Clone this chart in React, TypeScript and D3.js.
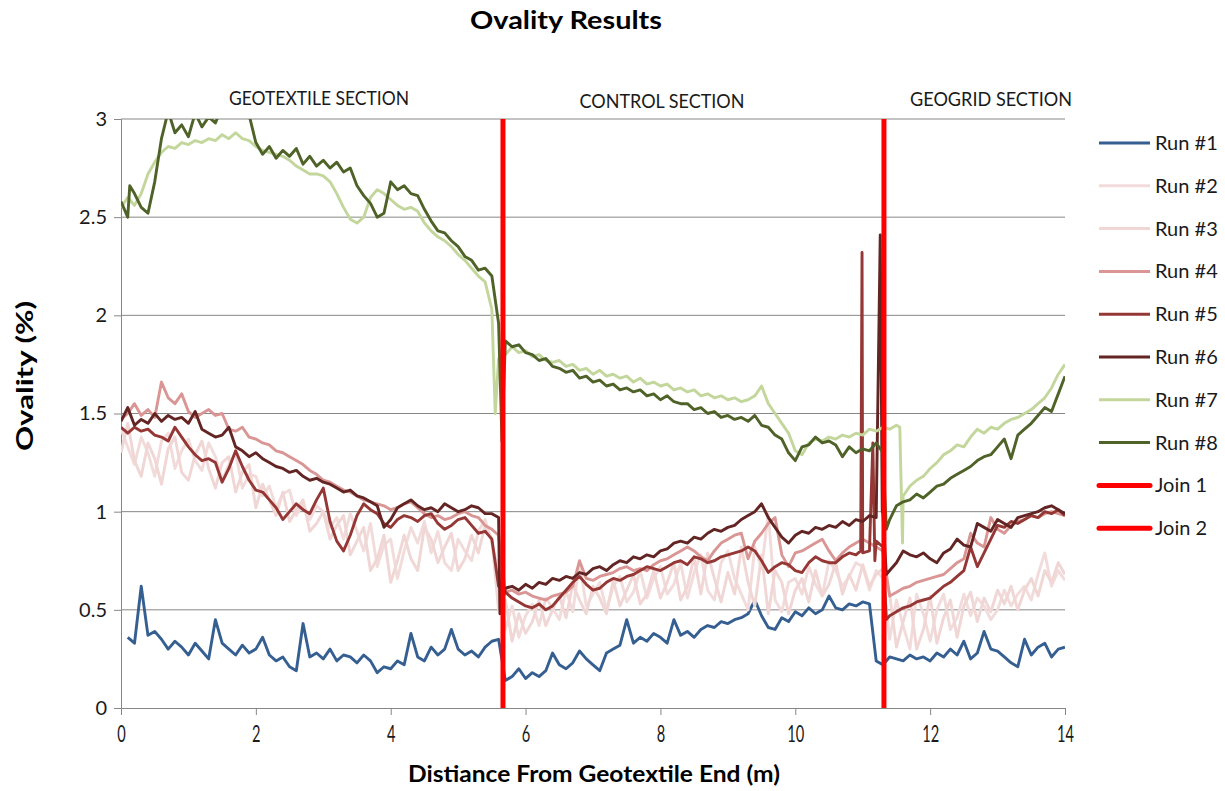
import React, { useEffect, useRef } from "react";
import * as d3 from "d3";

// ovality (%) sampled every 0.1 m along the pipe, 0 .. 14 m
const distanceStep = 0.1;

const run1 = [
  null, 0.36, 0.33, 0.62, 0.37, 0.39, 0.35, 0.30, 0.34, 0.31,
  0.27, 0.33, 0.29, 0.25, 0.45, 0.33, 0.30, 0.27, 0.32, 0.28,
  0.30, 0.36, 0.27, 0.24, 0.26, 0.21, 0.19, 0.43, 0.26, 0.28,
  0.25, 0.30, 0.24, 0.27, 0.26, 0.23, 0.27, 0.24, 0.18, 0.21,
  0.20, 0.24, 0.22, 0.38, 0.26, 0.24, 0.31, 0.27, 0.30, 0.40,
  0.30, 0.27, 0.29, 0.26, 0.31, 0.34, 0.35, 0.14, 0.16, 0.20,
  0.15, 0.18, 0.16, 0.19, 0.28, 0.22, 0.20, 0.23, 0.29, 0.25,
  0.22, 0.19, 0.28, 0.30, 0.32, 0.45, 0.33, 0.36, 0.34, 0.38,
  0.36, 0.33, 0.45, 0.37, 0.39, 0.36, 0.40, 0.42, 0.41, 0.44,
  0.43, 0.45, 0.46, 0.48, 0.55, 0.47, 0.41, 0.40, 0.46, 0.44,
  0.49, 0.47, 0.51, 0.48, 0.50, 0.57, 0.51, 0.50, 0.53, 0.52,
  0.54, 0.53, 0.24, 0.22, 0.26, 0.25, 0.24, 0.27, 0.25, 0.26,
  0.24, 0.28, 0.26, 0.30, 0.27, 0.34, 0.25, 0.28, 0.39, 0.30,
  0.29, 0.26, 0.23, 0.21, 0.35, 0.27, 0.31, 0.33, 0.26, 0.30,
  0.31,
];

const run2 = [
  1.42, 1.33, 1.24, 1.38, 1.30, 1.18, 1.36, 1.40, 1.22, 1.31,
  1.37, 1.26, 1.21, 1.35, 1.28, 1.16, 1.24, 1.30, 1.12, 1.19,
  1.18, 1.08, 1.13, 1.02, 1.09, 1.11, 0.98, 1.04, 0.96, 1.03,
  1.00, 0.92, 0.97, 0.86, 0.99, 0.90, 0.80, 0.94, 0.72, 0.83,
  0.86, 0.66, 0.80, 0.92, 0.84, 0.95, 0.79, 0.90, 0.74, 0.70,
  0.86, 0.80, 0.75, 0.90, 0.96, 0.84, 0.70, 0.40, 0.52, 0.36,
  0.47, 0.53, 0.42, 0.56, 0.51, 0.45, 0.60, 0.49, 0.74, 0.52,
  0.58, 0.64, 0.50, 0.62, 0.67, 0.54, 0.59, 0.70, 0.56, 0.66,
  0.72, 0.58, 0.63, 0.74, 0.56, 0.69, 0.78, 0.60, 0.55, 0.74,
  0.80, 0.66, 0.58, 0.50, 0.82, 0.71, 0.99, 0.55, 0.49, 0.64,
  0.66, 0.58, 0.72, 0.63, 0.57, 0.75, 0.70, 0.62, 0.67, 0.74,
  0.72, 0.60, 0.70, 0.66, 0.35, 0.55, 0.42, 0.30, 0.58, 0.48,
  0.34, 0.50, 0.58, 0.40, 0.46, 0.58, 0.47, 0.56, 0.52, 0.45,
  0.50, 0.60, 0.52, 0.58, 0.62, 0.55, 0.68, 0.79, 0.62, 0.70,
  0.65,
];

const run3 = [
  1.30, 1.45, 1.26, 1.18, 1.35, 1.27, 1.14, 1.32, 1.38, 1.20,
  1.16, 1.29, 1.36, 1.22, 1.12, 1.25, 1.28, 1.10, 1.20, 1.24,
  1.02, 1.14, 1.06, 0.98, 1.10, 0.95, 1.01, 1.06, 0.90, 0.94,
  1.00, 0.86, 0.93, 0.98, 0.78, 0.85, 0.92, 0.70, 0.76, 0.88,
  0.64, 0.75, 0.88, 0.76, 0.70, 0.92, 0.86, 0.74, 0.82, 0.89,
  0.70, 0.76, 0.88, 0.79, 0.93, 0.86, 0.50, 0.55, 0.34, 0.48,
  0.38, 0.44, 0.55, 0.42, 0.50, 0.57, 0.46, 0.63, 0.55, 0.48,
  0.62, 0.56, 0.48, 0.65, 0.52, 0.60, 0.68, 0.53, 0.58, 0.70,
  0.56, 0.64, 0.74, 0.55, 0.62, 0.77, 0.58, 0.79, 0.66, 0.54,
  0.69, 0.58, 0.82, 0.64, 0.52, 0.78, 0.48, 0.70, 0.64, 0.48,
  0.60, 0.66, 0.54, 0.70, 0.57, 0.63, 0.74, 0.58, 0.68, 0.60,
  0.73, 0.62, 0.68, 0.71, 0.58, 0.31, 0.44, 0.56, 0.30, 0.40,
  0.57, 0.33, 0.46, 0.55, 0.36, 0.52, 0.59, 0.44, 0.56, 0.49,
  0.60, 0.53, 0.62, 0.50, 0.60, 0.66, 0.57, 0.70, 0.64, 0.74,
  0.68,
];

const run4 = [
  1.47, 1.50, 1.55, 1.49, 1.52, 1.48, 1.66, 1.58, 1.55, 1.60,
  1.51, 1.48, 1.50, 1.52, 1.49, 1.50, 1.42, 1.41, 1.43, 1.38,
  1.37, 1.35, 1.34, 1.31, 1.30, 1.28, 1.26, 1.24, 1.21, 1.19,
  1.16, 1.15, 1.13, 1.11, 1.10, 1.08, 1.06, 1.05, 1.04, 1.03,
  1.01, 1.02, 1.04, 1.05, 1.02, 0.99, 0.97, 0.98, 0.96, 0.97,
  0.99, 1.00, 0.98, 0.97, 0.93, 0.91, 0.88, 0.59, 0.60, 0.58,
  0.59, 0.57, 0.56, 0.55, 0.57, 0.58, 0.59, 0.62, 0.75, 0.66,
  0.65, 0.67, 0.68, 0.69, 0.71, 0.72, 0.70, 0.71, 0.70, 0.73,
  0.75, 0.76, 0.78, 0.80, 0.82, 0.80, 0.77, 0.75, 0.80, 0.84,
  0.86, 0.88, 0.89, 0.76, 0.85, 0.89, 0.94, 0.97, 0.78, 0.72,
  0.79, 0.80, 0.82, 0.84, 0.86, 0.80, 0.75, 0.79, 0.82, 0.84,
  0.86, 0.84, 0.82, 0.80, 0.57, 0.59, 0.61, 0.62, 0.64, 0.65,
  0.66, 0.67, 0.68, 0.71, 0.74, 0.76, 0.89, 0.84, 0.82, 0.97,
  0.91, 0.89, 0.93, 0.95, 0.96, 0.98, 0.97, 0.99, 1.00, 0.99,
  0.98,
];

const run5 = [
  1.43, 1.40, 1.43, 1.41, 1.42, 1.39, 1.38, 1.36, 1.43, 1.38,
  1.33, 1.29, 1.26, 1.27, 1.25, 1.15, 1.22, 1.31, 1.23, 1.16,
  1.11, 1.10, 1.06, 1.02, 0.96, 1.00, 1.04, 1.01, 0.99, 1.06,
  1.12, 0.95, 0.85, 0.80, 0.88, 0.98, 1.04, 1.01, 0.99, 0.94,
  0.92, 0.96, 0.98, 0.97, 0.95, 0.98, 0.99, 0.94, 0.91, 0.93,
  0.96, 0.97, 0.93, 0.89, 0.90, 0.86, 0.62, 0.59, 0.56, 0.54,
  0.52, 0.51, 0.53, 0.50, 0.52, 0.56, 0.60, 0.64, 0.67, 0.63,
  0.60, 0.61, 0.64, 0.66, 0.65, 0.67, 0.68, 0.70, 0.72, 0.71,
  0.70, 0.72, 0.74, 0.75, 0.73, 0.77, 0.76, 0.74, 0.75, 0.77,
  0.78, 0.79, 0.80, 0.82, 0.80, 0.75, 0.69, 0.72, 0.74, 0.73,
  0.70, 0.69, 0.74, 0.77, 0.75, 0.74, 0.74, 0.77, 0.79, 0.78,
  0.79, 0.80, 0.85, 0.82, 0.47, 0.49, 0.51, 0.52, 0.54, 0.55,
  0.56, 0.59, 0.62, 0.64, 0.67, 0.70, 0.82, 0.72, 0.79, 0.86,
  0.93, 0.92, 0.95, 0.94, 0.96, 0.98, 0.97, 1.00, 0.99, 1.01,
  0.98,
];

const run6 = [
  1.46, 1.53, 1.44, 1.47, 1.45, 1.50, 1.46, 1.49, 1.47, 1.48,
  1.45, 1.51, 1.42, 1.40, 1.38, 1.39, 1.43, 1.33, 1.31, 1.28,
  1.30, 1.27, 1.25, 1.23, 1.22, 1.20, 1.21, 1.18, 1.16, 1.17,
  1.15, 1.14, 1.12, 1.10, 1.11, 1.08, 1.07, 1.05, 1.03, 0.92,
  0.96, 1.02, 1.04, 1.06, 1.03, 1.01, 1.02, 1.00, 1.04, 1.02,
  1.00, 1.01, 1.03, 1.02, 0.99, 0.99, 0.97, 0.61, 0.62, 0.60,
  0.63, 0.61, 0.64, 0.63, 0.66, 0.65, 0.67, 0.66, 0.69, 0.68,
  0.71, 0.72, 0.70, 0.73, 0.75, 0.74, 0.77, 0.76, 0.78, 0.77,
  0.80, 0.81, 0.84, 0.85, 0.84, 0.87, 0.86, 0.89, 0.91, 0.90,
  0.92, 0.93, 0.96, 0.98, 1.00, 1.04, 0.97, 0.92, 0.87, 0.84,
  0.88, 0.90, 0.89, 0.92, 0.91, 0.93, 0.92, 0.95, 0.93, 0.96,
  0.95, 0.98, 0.97, 0.99, 0.70, 0.74, 0.80, 0.78, 0.77, 0.79,
  0.76, 0.74, 0.79, 0.81, 0.86, 0.83, 0.82, 0.94, 0.92, 0.90,
  0.96, 0.94, 0.92, 0.97, 0.98, 0.99, 1.00, 1.02, 1.03, 1.01,
  0.99,
];

const run7 = [
  2.55, 2.60, 2.56, 2.62, 2.72, 2.78, 2.83, 2.86, 2.85, 2.88,
  2.87, 2.89, 2.88, 2.90, 2.89, 2.92, 2.90, 2.93, 2.90, 2.89,
  2.86, 2.84, 2.83, 2.82, 2.81, 2.79, 2.76, 2.74, 2.72, 2.72,
  2.71, 2.68, 2.62, 2.55, 2.49, 2.47, 2.50, 2.60, 2.64, 2.62,
  2.59, 2.56, 2.54, 2.55, 2.53, 2.47, 2.43, 2.40, 2.38, 2.35,
  2.31, 2.28, 2.24, 2.20, 2.17, 2.03, 1.78, 1.80, 1.84, 1.81,
  1.82, 1.79, 1.80, 1.77, 1.76, 1.77, 1.74, 1.75, 1.72, 1.73,
  1.70, 1.72, 1.69, 1.70, 1.68, 1.69, 1.66, 1.68, 1.65, 1.66,
  1.64, 1.65, 1.62, 1.63, 1.61, 1.62, 1.59, 1.60, 1.58, 1.59,
  1.57, 1.58, 1.56, 1.57, 1.59, 1.64, 1.55, 1.50, 1.45, 1.40,
  1.31, 1.29, 1.35, 1.37, 1.36, 1.38, 1.37, 1.39, 1.38, 1.40,
  1.39, 1.42, 1.41, 1.43, 1.42, 1.44, 1.08, 1.13, 1.16, 1.18,
  1.22, 1.25, 1.29, 1.31, 1.34, 1.33, 1.38, 1.42, 1.40, 1.43,
  1.42, 1.45, 1.47, 1.48, 1.50, 1.52, 1.55, 1.58, 1.63, 1.70,
  1.75,
];

const run8 = [
  2.58, 2.50, 2.62, 2.55, 2.52, 2.68, 2.90, 3.04, 2.93, 2.97,
  2.91, 3.03, 2.96, 3.01, 2.98, 3.06, 3.08, 3.07, 3.05, 3.02,
  2.88, 2.82, 2.86, 2.80, 2.84, 2.81, 2.85, 2.77, 2.81, 2.76,
  2.79, 2.75, 2.78, 2.73, 2.75, 2.66, 2.61, 2.57, 2.50, 2.52,
  2.68, 2.64, 2.66, 2.62, 2.61, 2.54, 2.48, 2.43, 2.42, 2.38,
  2.35, 2.30, 2.28, 2.23, 2.24, 2.20, 1.96, 1.87, 1.84, 1.85,
  1.81, 1.80, 1.77, 1.78, 1.74, 1.73, 1.71, 1.72, 1.68, 1.69,
  1.66, 1.67, 1.64, 1.65, 1.62, 1.63, 1.61, 1.62, 1.59, 1.60,
  1.57, 1.59, 1.56, 1.55, 1.55, 1.52, 1.53, 1.50, 1.51, 1.48,
  1.49, 1.47, 1.48, 1.46, 1.49, 1.44, 1.43, 1.39, 1.37, 1.30,
  1.26, 1.33, 1.34, 1.38, 1.35, 1.36, 1.34, 1.28, 1.33, 1.30,
  1.32, 1.31, 1.35, 1.30, 0.96, 1.03, 1.05, 1.06, 1.09, 1.07,
  1.10, 1.13, 1.14, 1.17, 1.19, 1.21, 1.23, 1.26, 1.28, 1.29,
  1.33, 1.37, 1.27, 1.39, 1.42, 1.45, 1.49, 1.53, 1.51, 1.60,
  1.69,
];

// short features between the 0.1 m samples: [distance, ovality]
const run5Spikes = [[10.97, 0.80], [10.99, 2.32], [11.15, 1.35], [11.18, 0.75], [11.35, 0.45]];
const run6Spikes = [[5.62, 0.48], [11.26, 2.41], [11.29, 1.0], [11.35, 0.68]];
const run7Spikes = [[5.55, 1.5], [11.55, 1.43], [11.59, 0.84]];
const run8Spikes = [[0.13, 2.66], [5.65, 1.36], [11.35, 0.91]];

const runNames = ["Run #1", "Run #2", "Run #3", "Run #4", "Run #5", "Run #6", "Run #7", "Run #8"];
const runValues = [run1, run2, run3, run4, run5, run6, run7, run8];
const runSpikes = [[], [], [], [], run5Spikes, run6Spikes, run7Spikes, run8Spikes];
const runColors = ["#365F91", "#F2DCDB", "#F0D6D5", "#D99694", "#953735", "#632523", "#C3D69B", "#4F6228"];

const joinNames = ["Join 1", "Join 2"];
const joinDistances = [5.665, 11.315];

const xTicks = [0, 2, 4, 6, 8, 10, 12, 14];
const yTicks = [0, 0.5, 1, 1.5, 2, 2.5, 3];
const sectionNames = ["GEOTEXTILE SECTION", "CONTROL SECTION", "GEOGRID SECTION"];

// layout of the free text boxes (pixels)
const sectionBoxes = [
  { x: 319, y: 105, w: 180 },
  { x: 662, y: 108, w: 165 },
  { x: 991, y: 106, w: 162 },
];

function App() {
  const ref = useRef(null);

  function drawChart() {
    const [width, height] = [1225, 791];
    const plot = { left: 121, right: 1065, top: 119, bottom: 708 };
    const font = "Lato, 'Open Sans', sans-serif";

    const root = d3.select(ref.current);
    root.selectAll("*").remove();

    const svg = root
      .append("svg")
      .attr("width", width)
      .attr("height", height)
      .style("position", "absolute")
      .style("left", 0)
      .style("top", 0)
      .style("background", "#fff");

    const xScale = d3.scaleLinear().domain([0, 14]).range([plot.left, plot.right]);
    const yScale = d3.scaleLinear().domain([0, 3]).range([plot.bottom, plot.top]);

    svg
      .append("defs")
      .append("clipPath")
      .attr("id", "plot-clip")
      .append("rect")
      .attr("x", plot.left)
      .attr("y", plot.top)
      .attr("width", plot.right - plot.left)
      .attr("height", plot.bottom - plot.top);

    // horizontal grid
    svg
      .append("g")
      .selectAll("line")
      .data(yTicks.filter((d) => d > 0))
      .join("line")
      .attr("x1", plot.left)
      .attr("x2", plot.right)
      .attr("y1", (d) => yScale(d))
      .attr("y2", (d) => yScale(d))
      .attr("stroke", "#878787")
      .attr("stroke-width", 1);

    // axes
    const yAxisG = svg.append("g").attr("transform", `translate(${plot.left},0)`);
    yAxisG.call(
      d3.axisLeft(yScale).tickValues(yTicks).tickSize(7).tickPadding(7).tickFormat((d) => String(d))
    );
    const xAxisG = svg.append("g").attr("transform", `translate(0,${plot.bottom})`);
    xAxisG.call(
      d3.axisBottom(xScale).tickValues(xTicks).tickSize(7).tickPadding(11).tickFormat((d) => String(d))
    );
    [yAxisG, xAxisG].forEach((g) => {
      g.select(".domain").attr("stroke", "#878787");
      g.selectAll(".tick line").attr("stroke", "#878787");
    });
    yAxisG
      .selectAll("text")
      .attr("font-family", font)
      .attr("font-size", 20)
      .attr("fill", "#1a1a1a");
    xAxisG
      .selectAll("text")
      .attr("font-family", font)
      .attr("font-size", 23)
      .attr("fill", "#1a1a1a")
      .attr("textLength", (d) => String(d).length * 8.5)
      .attr("lengthAdjust", "spacingAndGlyphs");

    // runs
    const line = d3
      .line()
      .x((d) => xScale(d[0]))
      .y((d) => yScale(d[1]));

    const runs = runValues.map((values, i) => {
      const pts = values
        .map((v, j) => [j * distanceStep, v])
        .filter((p) => p[1] !== null)
        .concat(runSpikes[i]);
      pts.sort((a, b) => a[0] - b[0]);
      return { name: runNames[i], color: runColors[i], pts };
    });

    svg
      .append("g")
      .attr("clip-path", "url(#plot-clip)")
      .selectAll("path")
      .data(runs)
      .join("path")
      .attr("d", (d) => line(d.pts))
      .attr("fill", "none")
      .attr("stroke", (d) => d.color)
      .attr("stroke-width", 2.9)
      .attr("stroke-linejoin", "round");

    // joins
    svg
      .append("g")
      .selectAll("line")
      .data(joinDistances)
      .join("line")
      .attr("x1", (d) => xScale(d))
      .attr("x2", (d) => xScale(d))
      .attr("y1", yScale(0))
      .attr("y2", yScale(3))
      .attr("stroke", "#FF0000")
      .attr("stroke-width", 5);

    // legend
    const legendItems = runs
      .map((r) => ({ name: r.name, color: r.color, w: 3 }))
      .concat(joinNames.map((n) => ({ name: n, color: "#FF0000", w: 5 })));
    const legend = svg
      .append("g")
      .selectAll("g")
      .data(legendItems)
      .join("g")
      .attr("transform", (d, i) => `translate(1098,${143 + i * 42.8})`);
    legend
      .append("line")
      .attr("x1", 1)
      .attr("x2", 52)
      .attr("stroke", (d) => d.color)
      .attr("stroke-width", (d) => d.w)
      .attr("stroke-linecap", (d) => (d.w > 3 ? "round" : "butt"));
    legend
      .append("text")
      .attr("x", 57)
      .attr("dy", "0.35em")
      .attr("font-family", font)
      .attr("font-size", 20)
      .attr("fill", "#1a1a1a")
      .text((d) => d.name);

    // titles
    svg
      .append("text")
      .attr("x", 566)
      .attr("y", 29)
      .attr("text-anchor", "middle")
      .attr("font-family", font)
      .attr("font-weight", "bold")
      .attr("font-size", 25)
      .attr("textLength", 192)
      .attr("lengthAdjust", "spacingAndGlyphs")
      .text("Ovality Results");

    svg
      .append("text")
      .attr("x", 594)
      .attr("y", 782)
      .attr("text-anchor", "middle")
      .attr("font-family", font)
      .attr("font-weight", "bold")
      .attr("font-size", 23)
      .attr("textLength", 372)
      .attr("lengthAdjust", "spacingAndGlyphs")
      .text("Distiance From Geotextile End (m)");

    svg
      .append("text")
      .attr("transform", "translate(33,376) rotate(-90)")
      .attr("text-anchor", "middle")
      .attr("font-family", font)
      .attr("font-weight", "bold")
      .attr("font-size", 22)
      .attr("textLength", 150)
      .attr("lengthAdjust", "spacingAndGlyphs")
      .text("Ovality (%)");

    svg
      .append("g")
      .selectAll("text")
      .data(sectionNames)
      .join("text")
      .attr("x", (d, i) => sectionBoxes[i].x)
      .attr("y", (d, i) => sectionBoxes[i].y)
      .attr("text-anchor", "middle")
      .attr("font-family", font)
      .attr("font-size", 20)
      .attr("fill", "#1a1a1a")
      .attr("textLength", (d, i) => sectionBoxes[i].w)
      .attr("lengthAdjust", "spacingAndGlyphs")
      .text((d) => d);
  }

  useEffect(() => {
    drawChart();
  }, []);

  return <div ref={ref}></div>;
}

export default App;
